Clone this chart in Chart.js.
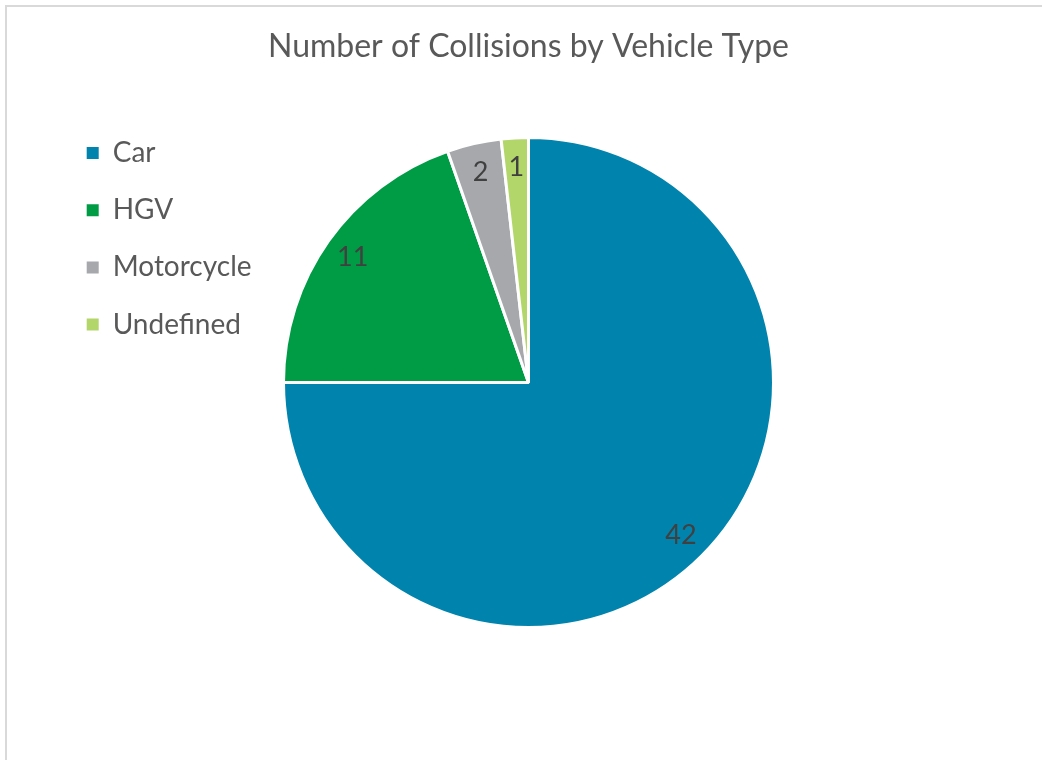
<!DOCTYPE html>
<html>
<head>
<meta charset="utf-8">
<title>Number of Collisions by Vehicle Type</title>
<script src="https://cdn.jsdelivr.net/npm/chart.js@4/dist/chart.umd.min.js"></script>
<style>
    html, body { margin: 0; padding: 0; background: #ffffff; overflow: hidden; }
    #frame {
        position: absolute; left: 5px; top: 5px; width: 1100px; height: 800px;
        border-left: 2px solid #d9d9d9; border-top: 2px solid #d9d9d9;
    }
    #wrap { position: absolute; left: 0; top: 0; width: 1042px; height: 760px; }
</style>
</head>
<body>
<div id="frame"></div>
<div id="wrap"><canvas id="collisionChart"></canvas></div>
<script>
// Dữ liệu biểu đồ
const vehicleTypes = ['Car', 'HGV', 'Motorcycle', 'Undefined'];
const collisionCounts = [42, 11, 2, 1];
const sliceColors = ['#0083ad', '#009c45', '#a6a8ab', '#b3d66a'];

const legendFontSize = 28;
const legendPadding = 29.2;
const legendBox = 12;
const padLeft = 57.5;
const pieCenterX = 528.5;

// Đo độ rộng chú thích để tâm hình tròn nằm đúng chỗ
const mctx = document.createElement('canvas').getContext('2d');
mctx.font = legendFontSize + 'px Lato';
const widest = Math.max(...vehicleTypes.map(t => mctx.measureText(t).width));
const legendWidth = legendPadding + legendBox + legendFontSize / 2 + widest + 10;
const padRight = 1042 - (2 * pieCenterX - (padLeft + legendWidth));

// Ghi số liệu lên từng lát bánh
const sliceLabels = {
    id: 'sliceLabels',
    afterDatasetsDraw(chart) {
        const ctx = chart.ctx;
        const meta = chart.getDatasetMeta(0);
        ctx.save();
        ctx.font = '27px Lato';
        ctx.fillStyle = '#404040';
        ctx.textAlign = 'center';
        ctx.textBaseline = 'middle';
        meta.data.forEach((arc, i) => {
            const p = arc.getProps(['x', 'y', 'startAngle', 'endAngle', 'outerRadius'], true);
            const mid = (p.startAngle + p.endAngle) / 2;
            const r = p.outerRadius * 0.88;
            ctx.fillText(String(collisionCounts[i]), p.x + Math.cos(mid) * r, p.y + Math.sin(mid) * r);
        });
        ctx.restore();
    }
};

const config = {
    type: 'pie',
    data: {
        labels: vehicleTypes,
        datasets: [{
            data: collisionCounts,
            backgroundColor: sliceColors,
            borderColor: '#ffffff',
            borderWidth: 3,
            radius: 245
        }]
    },
    options: {
        responsive: true,
        maintainAspectRatio: false,
        animation: false,
        layout: {
            padding: { left: padLeft, top: 0, right: padRight, bottom: 103.5 }
        },
        plugins: {
            title: {
                display: true,
                text: 'Number of Collisions by Vehicle Type',
                fullSize: false,
                color: '#595959',
                font: { family: 'Lato', size: 32, weight: 'normal', lineHeight: 1.2 },
                padding: { top: 27.8, bottom: 42.3 }
            },
            legend: {
                position: 'left',
                align: 'start',
                title: {
                    display: true,
                    text: '',
                    font: { size: 10, lineHeight: 1 },
                    padding: { top: 99.8, bottom: 0 }
                },
                labels: {
                    color: '#595959',
                    font: { family: 'Lato', size: legendFontSize },
                    boxWidth: legendBox,
                    boxHeight: legendBox,
                    padding: legendPadding,
                    // ô màu không viền trắng
                    generateLabels: function (chart) {
                        return Chart.overrides.pie.plugins.legend.labels.generateLabels(chart)
                            .map(item => Object.assign(item, { lineWidth: 0 }));
                    }
                }
            },
            tooltip: { enabled: false }
        }
    },
    plugins: [sliceLabels]
};

const ctx = document.getElementById('collisionChart').getContext('2d');
new Chart(ctx, config);
</script>
</body>
</html>
